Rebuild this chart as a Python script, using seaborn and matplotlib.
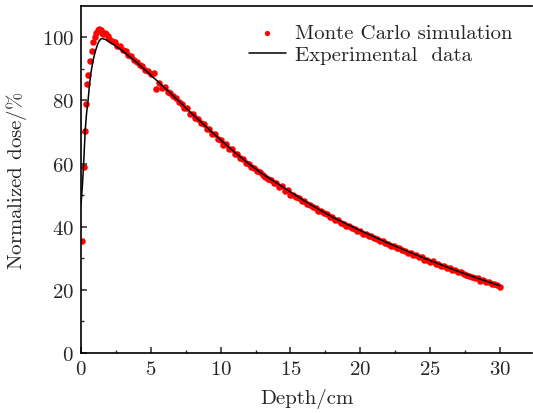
import numpy as np
import pandas as pd
import seaborn as sns
import matplotlib.pyplot as plt

# 实验数据 (曲线)
exp_depth = [0.0, 0.1, 0.2, 0.3, 0.4, 0.5, 0.6, 0.7, 0.8, 0.9, 1.0, 1.1, 1.2, 1.3,
             1.4, 1.5, 1.6, 1.8, 2.0, 2.5, 3, 4, 5, 6, 7, 8, 9, 10, 11, 12, 13, 14,
             15, 16, 17, 18, 19, 20, 21, 22, 23, 24, 25, 26, 27, 28, 29, 30]
exp_dose = [47.0, 53.0, 61.0, 70.5, 76.0, 79.8, 84.5, 88.5, 91.0, 93.3, 95.1, 96.6,
            97.9, 98.8, 99.4, 99.6, 99.5, 99.2, 98.6, 97.2, 95.6, 92.0, 88.0, 84.0,
            79.8, 75.6, 71.5, 67.5, 63.6, 60.0, 56.7, 53.9, 51.0, 48.2, 45.6, 43.1,
            40.9, 38.8, 36.8, 34.8, 32.9, 31.1, 29.3, 27.6, 25.9, 24.3, 22.8, 21.3]

# Monte Carlo 模拟点
mc_depth = [0.10, 0.21, 0.29, 0.38, 0.46, 0.52, 0.61, 0.76, 0.88, 1.00, 1.10, 1.20,
            1.30, 1.40, 1.50, 1.60, 1.70, 1.80, 1.90,
            2.0, 2.2, 2.4, 2.6, 2.8, 3.0, 3.2, 3.4, 3.6, 3.8, 4.0, 4.2, 4.4, 4.6, 4.8,
            5.0, 5.2, 5.4, 5.6, 5.8, 6.0, 6.2, 6.4, 6.6, 6.8, 7.0, 7.2, 7.4, 7.6, 7.8,
            8.0, 8.2, 8.4, 8.6, 8.8, 9.0, 9.2, 9.4, 9.6, 9.8, 10.0, 10.2, 10.4, 10.6,
            10.8, 11.0, 11.2, 11.4, 11.6, 11.8, 12.0, 12.2, 12.4, 12.6, 12.8, 13.0,
            13.2, 13.4, 13.6, 13.8, 14.0, 14.2, 14.4, 14.6, 14.8, 15.0, 15.2, 15.4,
            15.6, 15.8, 16.0, 16.2, 16.4, 16.6, 16.8, 17.0, 17.2, 17.4, 17.6, 17.8,
            18.0, 18.2, 18.4, 18.6, 18.8, 19.0, 19.2, 19.4, 19.6, 19.8, 20.0, 20.2,
            20.4, 20.6, 20.8, 21.0, 21.2, 21.4, 21.6, 21.8, 22.0, 22.2, 22.4, 22.6,
            22.8, 23.0, 23.2, 23.4, 23.6, 23.8, 24.0, 24.2, 24.4, 24.6, 24.8, 25.0,
            25.2, 25.4, 25.6, 25.8, 26.0, 26.2, 26.4, 26.6, 26.8, 27.0, 27.2, 27.4,
            27.6, 27.8, 28.0, 28.2, 28.4, 28.6, 28.8, 29.0, 29.2, 29.4, 29.6, 29.8,
            30.0]
mc_dose = [35.5, 58.8, 70.4, 79.0, 85.2, 88.2, 92.4, 95.5, 98.4, 100.0, 101.5, 102.2,
           102.5, 102.4, 101.2, 101.0, 101.4, 100.9, 100.5,
           99.5, 98.7, 98.5, 97.3, 97.1, 96.0, 95.6, 94.4, 94.2, 92.8, 92.3, 91.2,
           90.9, 89.5, 89.3, 88.4, 88.7, 83.6, 85.5, 84.0, 84.3, 82.7, 82.5, 81.3,
           80.7, 79.5, 79.0, 77.6, 77.6, 75.8, 75.7, 74.5, 74.0, 72.8, 72.4, 70.9,
           71.0, 69.3, 69.5, 67.7, 67.5, 65.9, 66.2, 64.5, 64.6, 63.0, 62.9, 61.7,
           61.3, 60.2, 59.9, 58.9, 58.6, 57.5, 57.2, 56.3, 55.9, 55.1, 54.8, 54.0,
           53.7, 52.6, 52.8, 51.4, 51.6, 50.2, 50.1, 49.5, 49.1, 48.3, 48.0, 47.3,
           47.0, 46.1, 45.9, 45.1, 45.0, 44.2, 43.9, 43.1, 43.0, 42.2, 42.0, 41.3,
           41.0, 40.3, 40.3, 39.6, 39.3, 38.7, 38.5, 37.8, 37.7, 37.1, 37.0, 36.3,
           36.2, 35.5, 35.5, 34.8, 34.6, 33.9, 33.9, 33.2, 33.1, 32.5, 32.4, 31.7,
           31.7, 31.0, 31.0, 30.3, 30.3, 29.6, 29.6, 28.8, 29.0, 28.1, 28.3, 27.5,
           27.6, 26.9, 26.9, 26.4, 26.2, 25.5, 25.5, 24.9, 24.8, 24.3, 24.1, 23.6,
           23.7, 22.9, 23.1, 22.4, 22.5, 21.9, 22.0, 21.4, 21.0]

exp_df = pd.DataFrame({'depth': exp_depth, 'dose': exp_dose})
mc_df = pd.DataFrame({'depth': mc_depth, 'dose': mc_dose})

sns.set_style('ticks')
plt.rcParams['font.family'] = ['cmr10', 'DejaVu Serif']
plt.rcParams['mathtext.fontset'] = 'cm'
plt.rcParams['axes.formatter.use_mathtext'] = True
fs = 15

fig = plt.figure(figsize=(5.33, 4.14), dpi=100, facecolor='white')
ax = fig.add_axes([81/533, 60/414, 451/533, 347.3/414])

sns.scatterplot(data=mc_df, x='depth', y='dose', ax=ax, color='#ff0000', s=22,
                linewidth=0, label='Monte Carlo simulation', zorder=2)
sns.lineplot(data=exp_df, x='depth', y='dose', ax=ax, color='black', lw=1.1,
             label='Experimental  data', zorder=3)

ax.set_xlim(0, 32.3)
ax.set_ylim(0, 110)
ax.set_xticks([0, 5, 10, 15, 20, 25, 30])
ax.set_xticks([2.5, 7.5, 12.5, 17.5, 22.5, 27.5], minor=True)
ax.set_yticks([0, 20, 40, 60, 80, 100])
ax.set_yticks([10, 30, 50, 70, 90], minor=True)
ax.tick_params(direction='in', which='major', length=4, width=1.1, labelsize=fs, pad=5)
ax.tick_params(direction='in', which='minor', length=2.5, width=1.0)
ax.tick_params(top=False, right=False)
ax.spines['right'].set_visible(False)
for s in ['left', 'bottom', 'top']:
    ax.spines[s].set_linewidth(1.2)
    ax.spines[s].set_color('black')

ax.set_xlabel('Depth/cm', fontsize=fs, labelpad=7)
ax.set_ylabel(r'Normalized dose/$\%$', fontsize=fs, labelpad=9)

ax.legend(loc='upper right', bbox_to_anchor=(0.99, 0.99), frameon=False, fontsize=fs,
          labelspacing=0.15, handlelength=1.8, handletextpad=0.45, borderaxespad=0.3,
          markerscale=0.8)

plt.savefig('out.png', dpi=100)
